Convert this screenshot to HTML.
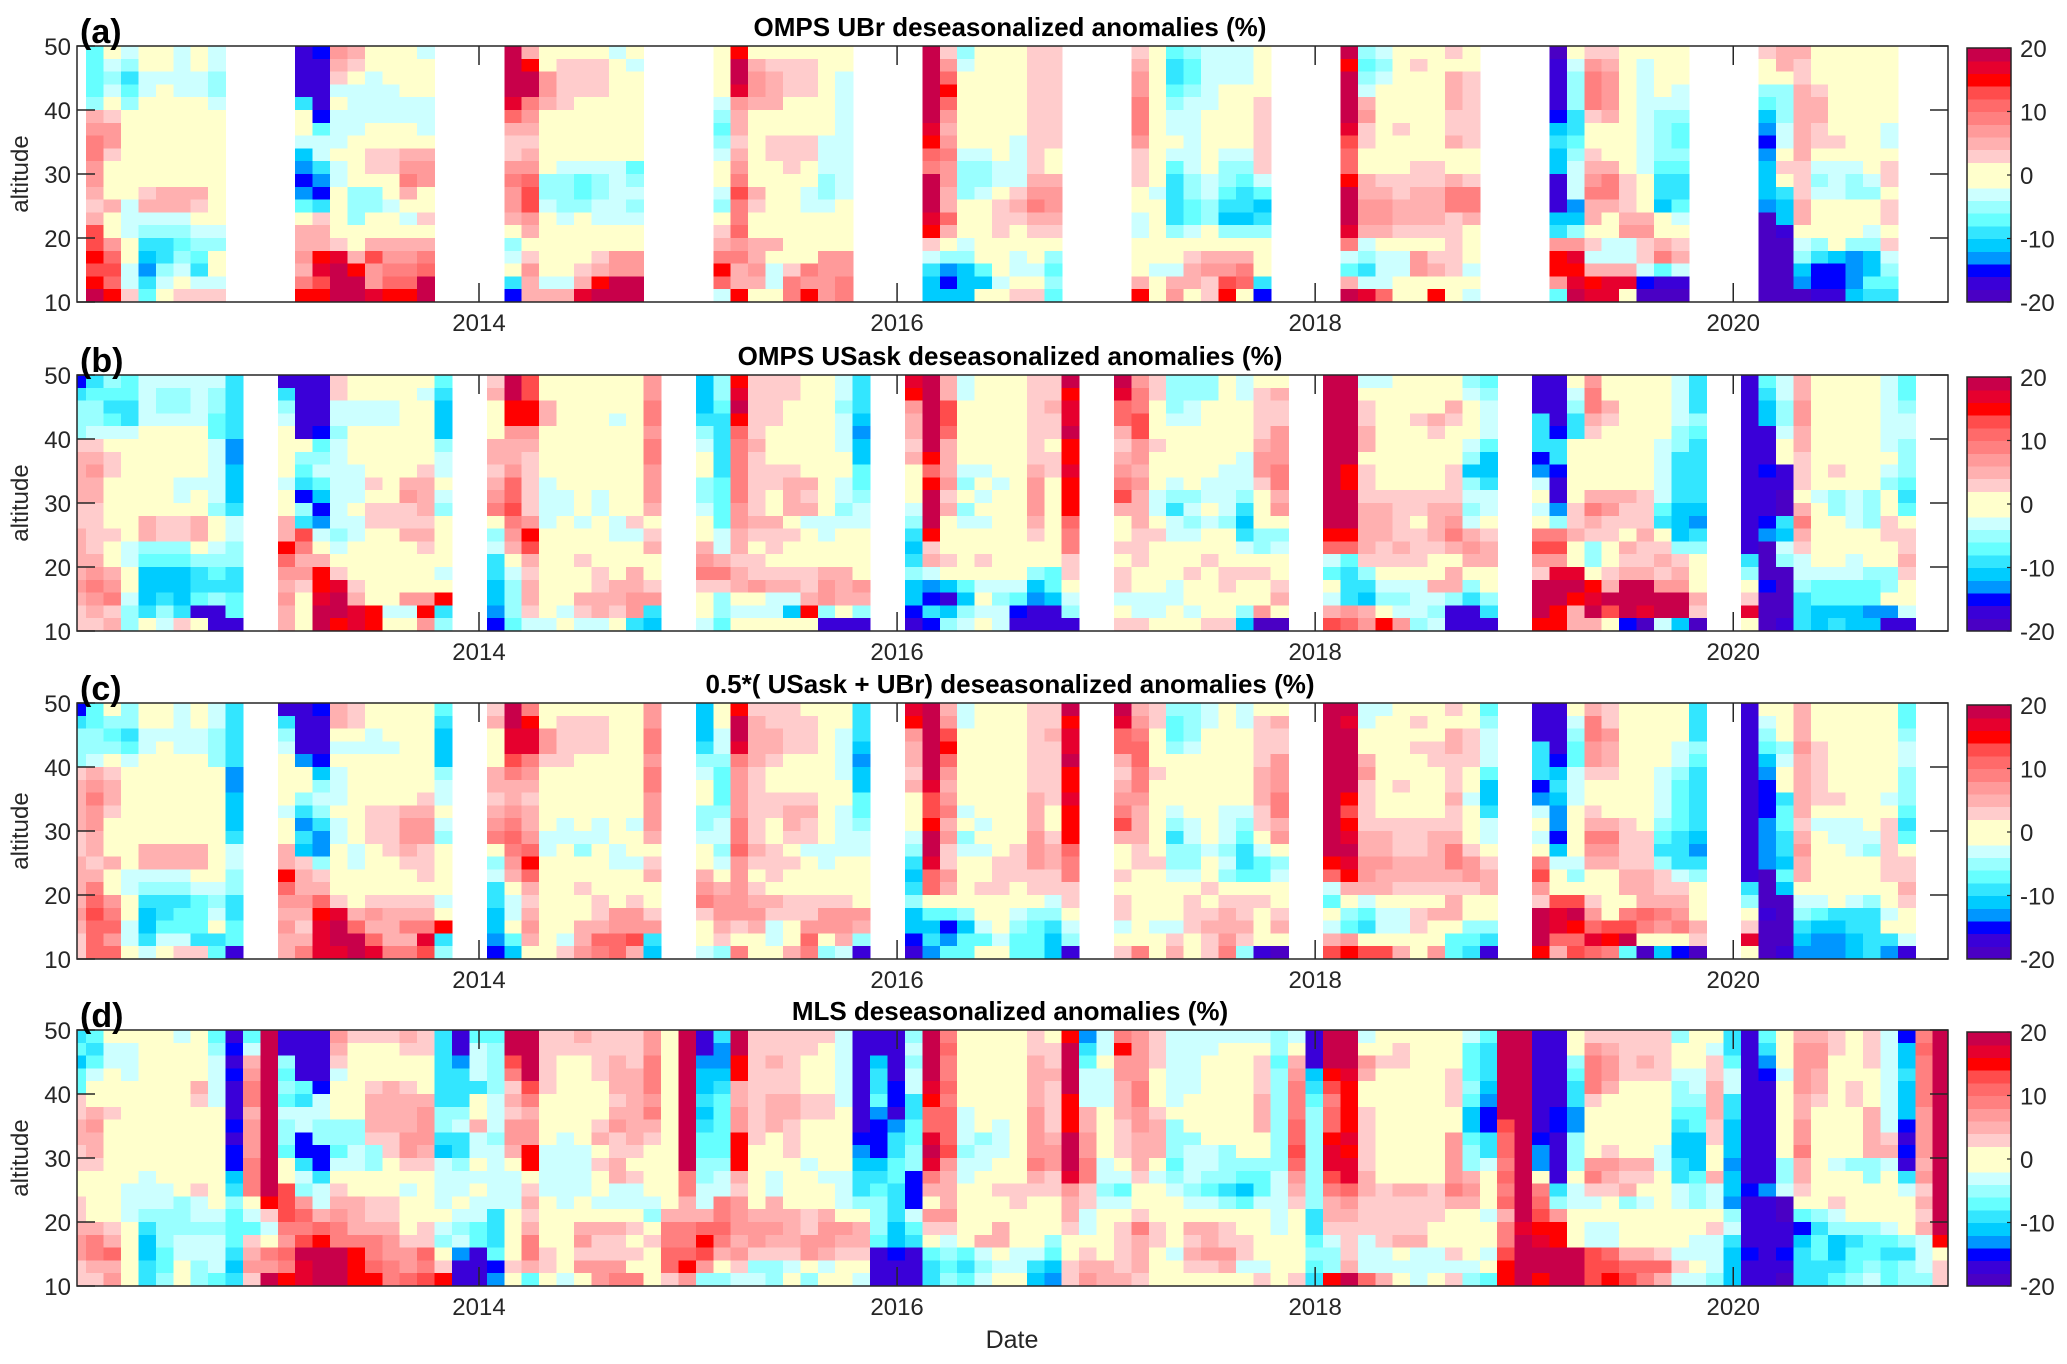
<!DOCTYPE html>
<html><head><meta charset="utf-8">
<style>
html,body{margin:0;padding:0;background:#fff;}
svg{display:block;font-family:"Liberation Sans",Arial,sans-serif;}
</style></head>
<body>
<svg id="fig" width="2067" height="1364" viewBox="0 0 2067 1364" xmlns="http://www.w3.org/2000/svg"></svg>
<script>
// ---- data: months since Jan 2012; each profile string = 20 altitude bins (50->10 km, top first)
// codes: A=-19 B=-17 C=-15 D=-13 E=-11 F=-9 G=-7 H=-5 I=-3 J=-1 K=1 L=3 M=5 N=7 O=9 P=11 Q=13 R=15 S=17 T=19
const monthsA = [1,2,3,4,5,6,7,8, 13,14,15,16,17,18,19,20, 25,26,27,28,29,30,31,32, 37,38,39,40,41,42,43,44, 49,50,51,52,53,54,55,56, 61,62,63,64,65,66,67,68, 73,74,75,76,77,78,79,80, 85,86,87,88,89,90,91,92, 97,98,99,100,101,102,103,104];
const profilesA = [
"GGGGHMNOONNMLMQQRQRT","KIHIKLNNLKKKMKKNPQPR","IHFGHKKKKKKKIIIKKIIL","KKIIKKKKKKKLMIHFEDFG","KKIKKKKKKKKMMIHFFHIK","IIIIKKKKKKKMMIHGHIKL","KKIIKKKKKKKMLKIHGFIL","IIHHIKKKKKKKKKIHKKIL",
"BBBBFKKIEDCDGKMMNMOR","CBBBBCGIIFDCFLMMRSQR","NMLIKIIIKIIKKKKLSTTT","MLKIIIIKKKKHHHKKMRTT","KKIIIIKKLLKHHKKMQNNS","KKKIIIKKLLKKIKKMNOPR","KKKKIIKKMNOMKIKMNOPR","IKKKIIIKMNNKKLKMOPTT",
"TTTTSPMLLNONNMKHIKFC","MRTTONMLMNPQQNMKLNMM","KKNNMKKKKKHHIKKKKKIM","KLLLLKKKKIHHHIKKKKIM","KLLLKKKKKIGGHKKKKLMS","KLLLKKKKKIHHIIKKLMRT","IKKKKKKKKIIIIIKKNNTT","KIKKKKKKKGHIHIKKNNTT",
"KKKKIHGHIKKIHKLMORPI","RTTSNMMLMNOQOOPNOMMR","KMNNMKKKKKKMLKKMMNMK","KLMMMKKLLKKKKKKMKIIK","KLLLKKKLLLKKKKKKKLOO","KLLLKKKLLKKIIKKKKONR","KKKKKKKIIIHHIKKKNNNN","KKIIIIIIIIIIKKKKNNOO",
"TTTTTTSRPOTTTSRLIFEE","LNPRPNMNONNMMPMKHDCE","HIKKKKKKIHHHKKKIHEEE","KKKKKKKKIHHIKKKKKGEK","KKKKKKKKKIIKLLLKKKIK","KKKKKKKIIIILMLKKIIKL","LLLLLLLLLLMNOMLKKIKL","LLLLLLLLKKMNNMLKHGHG",
"LMNNOOONLLLKKIIKKKMR","KKKKKKKKKKKIKKKKKIKK","GFFGHIIKIGFFFFHKKIMN","HGGHIIIIIIHHGGIKLMMK","IIIIIKKKKKIIHHKKMNLL","IIIKKKKKIHHGFEHKMNQR","IIIKKKKKIHGFFEHKMOPK","KKKKLLLLLLIGEFHKKKFC",
"TRTTTTSQPPRTTTSOIGMT","HGHIMNLLKKMMNNMIHFIS","IHIKKKKKKKLMNNMKIIIP","KKKKKKLKKKLLMMLKIIKK","KLKKKKKKKLLMMMLKNNKK","KKKKKKKKKLLMMMLKLMKR","LKMMMLLMKKMOOLLLLLKK","KKLLLLLLKKLOOMKKKIKI",
"ABBBBCEFEEBBBEFNRRNG","KIHHHFFGHIIIDEHNSRST","LNOOOLKKLMNOMMKLIMRS","LMNNNMKKKMOOMKKIIMSS","KKKKKKKKKKLLLMNIIMSK","KIIIIIIIIIKKKMNLLICA","KKKKIHHHHGFFEKKMOGBA","KKKIIHGGHGFFGIKLMIBA",
"LKKHGEDCDEEEDAAAAAAA","MMKHHHIIKLKFEEBAAAAA","MLLMMMMMMLLLMMKIHEDA","KKKLMMLLKIHIKKKHFCCB","KKKKKKKLKIIIKKKKECCB","KKKKKKKKKIHHKKKHDDDE","KKKKKKKKKKIHKKIHEEGF","KKKKKKIIKLLKLLKLIHGF"
];
const monthsB = [0,1,2,3,4,5,6,7,8,9, 12,13,14,15,16,17,18,19,20,21, 24,25,26,27,28,29,30,31,32,33, 36,37,38,39,40,41,42,43,44,45, 48,49,50,51,52,53,54,55,56,57, 60,61,62,63,64,65,66,67,68,69, 72,73,74,75,76,77,78,79,80,81, 84,85,86,87,88,89,90,91,92,93, 96,97,98,99,100,101,102,103,104,105];
const profilesB = [
"CFHHHLMMMMLLMMMMNMLL","FGHHILMNMMLLLLMNONML","HGFGIKLLKKKKLKKMNOLM","GGFFIKKKKKKKKIIKKIHH","IIIIKKKKKKKMMHGEEEFK","IHHIKKKKKKKLLHGEEFHI","IHHIKKKKIIKLLHGEEEFL","IIIIKKKKIKKMMKHFFGBK","IHHGGIIIIIHKKIHGFHBB","FFFFFDDEEEFIIHHFFGGB",
"BFHIKKKKIKKMMRPNMNMM","BBBBBKHGFCHFQOMNLKKK","BBBBCGHIGECDIKMRRSTT","LLIIHIIIIIIIHIKLSTTR","KKIIKKKIIIKIIKKKLMSS","KKIIKKKKLKLLKKKKKKRR","KKIIKKKKKKLLKKKKKKIK","KKKKKKKKMNLLMKKKKNIK","KIKKKKKLMMMLMLKKKNRN","GFEEEHIIKIHKKKKIKRFH",
"LMKKKMMLMNOKHIFFEEDC","TTRRNMMNPPQONMKIHHHG","QQRRNMLLLLLNRQMLMMLI","KKMMKKKKIIIIKKKKKKKI","KKKKKKKKKIIKKKKKKKIK","KKKKKKKKKKKIKKLKKMLI","KKKKKKKKKIIKKKKLLMMI","KKKIKKKKKKKIIKKKMMLK","KKKKKKKKKKKLIKKMMNNF","NNOONOONNNMKLMKKLNFE",
"EEEFHIKKHHIKKMNOLKKI","HHGFFFFFGGGGIIMOLHHG","RSTRPOOOOONNMMLMMKIK","LLLLLMLLLLLMLKLLNKIK","LLLLKKKLLKKMLLKLMIIK","LLKKKKKLMMMKLKKLMIEK","KKKKKKKKMLMIKKKLLMRK","KKKKKKKKKKKIIKKMNNHB","IIHIIIKKIIHIKKKMMMKB","FFFEDEEGGHIIKKKKNMHB",
"SRNMMLMKKKIHFEFHEECB","TTTTTTRPRTTTRLMIDCFC","MMQQPMMMNLMKKKLKEBEH","IIKKKKKIHKHIKKKKGEHI","KKKKKKKIKIKIKKLKIKIK","KKKKKKKKIKKKKKKKIHII","KKKKKKKKKKKKKKKKIGCB","LLLLLLLMNNNMLKKHEDBB","LLMLLKLLKKKKKKKGGEBB","TRSSTRRSRRRPOOLLKIHB",
"TSPPMLMNOQMKKLKLLIKL","NOOQQNNMNMMMLLLKKIIL","LLKKKLKKKIIKLKKKKIIK","HHHIKKKKIHFIIKKKIIKK","HHIIKKKKKHIHIKKLKKIK","HHKKKKKKIIKIKKLKKKKL","KKKKKKKIIIIHKKKLLKKL","IIKKKKIIIHFEFIKLKKHE","KLLLLMNNLKKKHHKLKKNA","KMLLNNNOOMNKHIKKLMKA",
"TTTTTTTTTTTTRPIGKIMQ","TTTTTTTRRTTTRPGFFFNP","IKLLMMKLLLMMMMLHFEMN","IKKKKKKKKLMMMLLKIHKR","KKKKKKKKKLLLLMLKIHIN","KKKLKKKKKLLKLLLKIIIH","KKKMLKKKKLMMMLKKMIHI","KKMLKKKLLLMNOMKMMHBB","HIKKKIHEHIHIMNMKHFBB","GHIIIGEEFIIKLMMKKHFB",
"BBBFFFCDIKIKOQNLTTTR","BBBBCFFCBBDHOQNSTTRR","KIHFFKKKKKLLMKKSTRMM","NOOMLKKKKMOMLHHKRSTM","KKMLKKKKKMNLLKKLMTQK","KKKKKKKKKMLLKMLMTTTC","KKKKKKKKKLLLMLLMTTSA","KKKKKIIIIIGFKLMLNTTI","IIIIHHFFFFEEEHLMNTTE","FFFHGFFFFFEDFHKKKMLA",
"BBBBBBBBBBBBBBFHKLSK","GFEEBBBCBBBCDAAACAAA","IIHHIKKBBAAFEIHAAAAB","MMNNMMLLLKMOMLIIHFFF","KKKKKKKKKIKKKKKIGGEE","KKKKKKKLKHHKKKKIGGEF","KKKKKKKKKIIIKKIIGGEE","KKKKKKKKKHHHKKKHGGDE","IIIIIIKIHKKLLKKHHKDB","GGHIIHHHGFGKLLMLKKIB"
];
const monthsD = [0,1,2,3,4,5,6,7,8,9,10,11,12,13,14,15,16,17,18,19,20,21,22,23,24,25,26,27,28,29,30,31,32,33,34,35,36,37,38,39,40,41,42,43,44,45,46,47,48,49,50,51,52,53,54,55,56,57,58,59,60,61,62,63,64,65,66,67,68,69,70,71,72,73,74,75,76,77,78,79,80,81,82,83,84,85,86,87,88,89,90,91,92,93,94,95,96,97,98,99,100,101,102,103,104,105,106,107];
const profilesD = [
"FGEGGLLMMLLKKLLMNNLL","GFGIKKMNMMLKKKKMOOML","KIIKKKLKKKKKKKKLMPMN","KIIIKKKKKKKKIIIKKKKK","KKKKKKKKKKKIIIHFEEFF","KKKKKKKKKKKKIIHHHGGH","IKKKKKKKKKKKKHHHIIKK","KKKKMLKKKKKKLIIHIIHH","GHIIIIKKKKKKKKIHIIIG","BCBCBBBCBCCEFHGGGFEF",
"GIMNOOMNNNOOOKIGLMNL","TTTTTTTTTTTTTRLIKONT","BBHGHGIHHGKKQQQONPOR","BBBBGFIICCFIHNPOQTSS","BBBBCIIHHCCFIIMPRTTT","NMLIKKKHHGIKLMNOOTTT","LKKKKKKHHIIKKMMMORRR","LKKKLMMMLHHKKLLMOOPR","LKKKMMMMLLKKKLLMNNOO","MLKKLMMMNNLKIKKKLNNP",
"LLKKKMNNNMLKKKKLLPOQ","FFFFFFHHFEIIIIKIHKLR","BBDFFFHIFFHIIKIHIDBB","GIIIFKKMIIKIKIIGGBBB","GHHHHIIIHIIIIIFFFGCD","TTQOLMLNNMKIIIKKKKLK","TTTTQOMNNRRKLMLMOOMG","LLLLLKKKKIIIIKKKKLLK","LLKKKKKKIIIIIIKKKKKI","MLKKKKKKKIIIIKKMNLNK",
"LLLLKKKLMKLKKIKMLLNN","LLMMMLMNLLMMIIKMLLNO","LLLMMMMMMLKLIIKLKLKO","NNOOONOMLKKKKIHKLKKK","KKKKKKKKKKKKKKMOOPPL","TTTTTTTTTTTOOMMOOPRN","BBDEEFEFGGHHIIMPRQNH","FDDEFGGGGGHIIOOPOMKH","TTRRMMNNRRRMLNNNMNLI","LLLLLLLLLKKKKKMNNLHI",
"LLMLLMMMKKKIIMMNMLHH","LLLLLMMLLLKKKKMMMLIK","LLKKKLLKKKIKKKLLNNKH","LKKKKLLKKKKIKKMNNMIK","IIIIIIKKKKKIIIKNMLKK","BBBBBBBBCDEFFHKMMLKI","BBEFFGDCCCEFGHHHGBBB","BBBBCCBDFFGGFFFEECBB","HIHIIFFGGHHCCCIGFBBB","TTTTSRPPSTSOMKNLKGFF",
"OPOOPOPPPQNMMMNLIHGH","KKKKKKIIIHIIKKKKKGFG","KKKKKKKKHIIKKKKKMIHI","KKKKKKKIIIKKLKKMMKIK","KKKKKKKKKKKKLLKKKIIK","LLMMMMNNNNOMLKKKKIFE","KLLMLLLLMNNLLKKKHGED","RTTTTRRRTTTSNMMLKKLL","DFGIIIMMNNOOLLIIKLMN","IIKIIIKKKKIIHIKKKKMM",
"ORNNMMMLLLKIGIKLLLLM","NNNNOONNMMMLKKLOMMML","LLLKKKLMMMKIKKKLLKKK","IIIIIIKHHHGHIKKKKIKK","IIIIIKKKHIIIHIKMLMLK","IIKKKKKKKIIHGIKMMNLK","IKKKKKKKKHHHFHKLLNMK","IKKKKKKKKKHGEGKKLLIK","IKLLLMMMKKHGGIKKKKIL","HHGHHHHHHHHIIIIIKKKK",
"IKMNOOOPPQPNMLKKKKKL","BBBEFGHHHHHHHHFFGHGF","TTTRQOPPRSSQOMMLIHHR","TTTSRRRRSRSSPNMLLLMT","IKNMKKLLLLLMMLLLIIIP","KKLKKKKKKKKKLLLLLIIM","KLLKKKKKKKKKMLLLMKIK","KKKKKKKKKKKKMLLLMIII","KKKKKKKKKKKKLLLKKIIK","KKKLLLKKNNNNOMKKKLIL",
"IGGGHGEEGHHMNMKKKKIH","GFFFEDCCFFIKKKIKKIKG","TTTTTTTQPPOPOPMOOQRR","TTTTTTTTTTTTTTTSTTTT","BBBBBBBBCDDKOPQRSTTR","BBBBBBCCBBBBFHNRRTTT","KKHGFFDDHHHKIIKKKTTT","LNOOOLKKKKNOLIKIIQQQ","LMNNMKKKKLNMLKKIIPQR","LLLLKKKKKKMLMHKKKMPQ",
"LLMLKKKKKKMLKIKKKMPO","LLLLKKKKKIIKKKKKKLPM","HKKIHHGFEEFFIIKKKILI","KKKIIHGGEEEGHHKKIIKI","KILLMMMLLKKMIIKLIIIH","FFGIIFFEEEDEEDHIFEEE","BBBBBBBBBBBBCBBBBCBB","GFDCBBBBBBBBDBBBBBBB","KKKIKKKKKKHHIAABBCBA","MNNNNMMNNOMMLKGCEFFF",
"MNNMMLKKKKKKKKHFGGFF","LLKKKKKKKKIKKLIHEEFG","KKKKLLKKKKHKKKKHFGGH","LLLKKKMMMMHHKKKHGGHI","IIIIIIIILMIKKKKIGFGG","CEEFEEECBCBFIKKKHFHH","OPOOOONNNNMNLMLMIIIH","TTTTTTTTTTTTTTTTRKLL"
];
const altEdges = [50,48,46,44,42,40,38,36,34,32,30,28,26,24,22,20,18,16,14,12,10];
const yTicks = [10,20,30,40,50];
const xTickYears = [2014,2016,2018,2020];
const cbTicks = [-20,-10,0,10,20];
const cmap = ["#4a00c4","#3a00d8","#0000ff","#0096ff","#00ccff","#33e6ff","#66ffff","#99ffff","#ccffff","#ffffcc","#ffffcc","#ffcccc","#ffb0b0","#ff9a9a","#ff8080","#ff6a6a","#ff4c4c","#ff0000","#e6002e","#c8004a"];
const titles = ["OMPS UBr deseasonalized anomalies (%)","OMPS USask deseasonalized anomalies (%)","0.5*( USask + UBr) deseasonalized anomalies (%)","MLS deseasonalized anomalies (%)"];
const panelLetters = ["(a)","(b)","(c)","(d)"];

// ---- helpers
const NS = "http://www.w3.org/2000/svg";
const svg = document.getElementById("fig");
function mk(tag, attrs, parent){ const e=document.createElementNS(NS,tag); for(const k in attrs) e.setAttribute(k,attrs[k]); (parent||svg).appendChild(e); return e; }
function codeVal(c){ return (c.charCodeAt(0)-65)*2-19; }
function toVals(s){ const a=[]; for(let i=0;i<20;i++){ a.push(codeVal(s[Math.min(i,s.length-1)])); } return a; }
function color(v){ let i=Math.floor((v+20)/2); if(i<0)i=0; if(i>19)i=19; return cmap[i]; }

const mapA = {}; monthsA.forEach((m,i)=>mapA[m]=toVals(profilesA[i]));
const colsA = monthsA.map((m,i)=>({m:m, v:toVals(profilesA[i])}));
const colsB = monthsB.map((m,i)=>({m:m, v:toVals(profilesB[i])}));
const colsC = colsB.map(c=>({m:c.m, v: mapA[c.m] ? c.v.map((x,j)=>(x+mapA[c.m][j])/2) : c.v}));
const colsD = monthsD.map((m,i)=>({m:m, v:toVals(profilesD[i])}));
const panelsData = [colsA, colsB, colsC, colsD];

const AX_L = 77, AX_R = 1948, H = 256;
const tops = [46, 375, 703, 1030];
const xOfMonth = t => 479 + (t-24)*17.42;
const xOfYear = y => xOfMonth((y-2012)*12);
const ink = "#262626";

panelsData.forEach((cols, p)=>{
  const top = tops[p];
  const yOf = a => top + (50-a)/40*H;
  const g = mk("g", {});
  
  
  const hm = mk("g", {"shape-rendering":"crispEdges"}, g);
  
  
  cols.forEach(c=>{
    let x0 = Math.max(AX_L, xOfMonth(c.m+0.45)), x1 = Math.min(AX_R, xOfMonth(c.m+1.45));
    if (x1<=x0) return;
    c.v.forEach((v,r)=>{
      const y0 = yOf(altEdges[r]), y1 = yOf(altEdges[r+1]);
      const rc = mk("rect", {x:x0.toFixed(2), y:y0.toFixed(2), width:(x1-x0+0.6).toFixed(2), height:(y1-y0+0.6).toFixed(2), fill:color(v)}, hm);
      
      
    });
  });
  const box = mk("rect", {x:AX_L, y:top, width:AX_R-AX_L, height:H, fill:"none", stroke:ink, "stroke-width":1.5}, g);
  
  
  yTicks.forEach(v=>{
    const y = yOf(v);
    const t1 = mk("line", {x1:AX_L, x2:AX_L+18, y1:y, y2:y, stroke:ink, "stroke-width":1.5}, g);
    
    
    const t2 = mk("line", {x1:AX_R-18, x2:AX_R, y1:y, y2:y, stroke:ink, "stroke-width":1.5}, g);
    
    
    const lb = mk("text", {x:71, y:y+9, "text-anchor":"end", "font-size":24, fill:ink}, g);
    lb.textContent = String(v);
    
    
  });
  xTickYears.forEach(yr=>{
    const x = xOfYear(yr);
    const t1 = mk("line", {x1:x, x2:x, y1:top+H-19, y2:top+H, stroke:ink, "stroke-width":1.5}, g);
    
    
    const t2 = mk("line", {x1:x, x2:x, y1:top, y2:top+19, stroke:ink, "stroke-width":1.5}, g);
    
    
    const lb = mk("text", {x:x, y:top+H+29, "text-anchor":"middle", "font-size":24, fill:ink}, g);
    lb.textContent = String(yr);
    
    
  });
  const yt = mk("text", {x:0, y:0, transform:"translate(28,"+(top+H/2)+") rotate(-90)", "text-anchor":"middle", "font-size":24, fill:ink}, g);
  yt.textContent = "altitude";
  
  
  const tt = mk("text", {x:1010, y:top-10, "text-anchor":"middle", "font-size":26, "font-weight":"bold", fill:"#000"}, g);
  tt.textContent = titles[p];
  
  
  const pl = mk("text", {x:80, y:top-3, "font-size":34, "font-weight":"bold", fill:"#000"}, g);
  pl.textContent = panelLetters[p];
  
  
  const cb = mk("g", {"shape-rendering":"crispEdges"}, g);
  
  
  const cbT = top+2, cbH = H-2, cbX = 1967, cbW = 44;
  cmap.forEach((c,i)=>{
    const y0 = cbT + cbH*(19-i)/20;
    const r = mk("rect", {x:cbX, y:y0.toFixed(2), width:cbW, height:(cbH/20+0.6).toFixed(2), fill:c}, cb);
    
    
  });
  const cbb = mk("rect", {x:cbX, y:cbT, width:cbW, height:cbH, fill:"none", stroke:ink, "stroke-width":1.5}, g);
  
  
  cbTicks.forEach(v=>{
    const y = cbT + cbH*(20-v)/40;
    const tk = mk("line", {x1:cbX+cbW-4, x2:cbX+cbW, y1:y, y2:y, stroke:ink, "stroke-width":1.2}, g);
    
    
    const lb = mk("text", {x:2020, y:y+9, "font-size":24, fill:ink}, g);
    lb.textContent = String(v);
    
    
  });
});
const xl = mk("text", {x:1012, y:1348, "text-anchor":"middle", "font-size":25, fill:ink});
xl.textContent = "Date";


</script>
</body></html>
